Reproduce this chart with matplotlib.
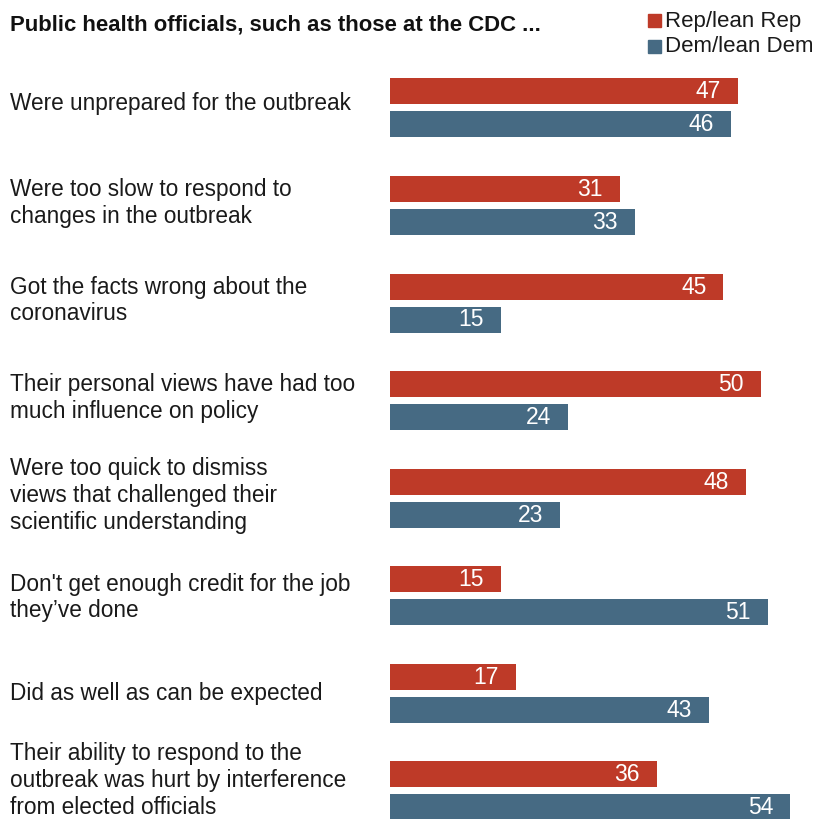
import matplotlib
matplotlib.use("Agg")
import matplotlib.pyplot as plt
from matplotlib.patches import Rectangle

categories = [
    "Were unprepared for the outbreak",
    "Were too slow to respond to\nchanges in the outbreak",
    "Got the facts wrong about the\ncoronavirus",
    "Their personal views have had too\nmuch influence on policy",
    "Were too quick to dismiss\nviews that challenged their\nscientific understanding",
    "Don't get enough credit for the job\nthey\u2019ve done",
    "Did as well as can be expected",
    "Their ability to respond to the\noutbreak was hurt by interference\nfrom elected officials",
]
rep_values = [47, 31, 45, 50, 48, 15, 17, 36]
dem_values = [46, 33, 15, 24, 23, 51, 43, 54]
series_names = ["Rep/lean Rep", "Dem/lean Dem"]
title = "Public health officials, such as those at the CDC ..."

REP_COLOR = "#BE3A28"
DEM_COLOR = "#466A83"
TEXT_COLOR = "#1a1a1a"
FONT = ["Liberation Sans", "DejaVu Sans"]

W, H = 832, 819
fig = plt.figure(figsize=(W / 100, H / 100), dpi=100)

# Axes laid out in pixel units vertically (y grows downward)
px_per_unit = 7.41
x0 = 390
ax = fig.add_axes([x0 / W, 0, 54 * px_per_unit / W, 1])
ax.set_xlim(0, 54)
ax.set_ylim(H, 0)
ax.axis("off")

group_start = 91.3
group_step = 97.6
bar_gap = 33.0
bar_h = 26.0
# small per-row nudges for the wrapped category labels
label_dy = [-4, -2.5, -2.5, -2.5, -2.7, 1.5, 0, -10.5]

for i, (cat, r, d) in enumerate(zip(categories, rep_values, dem_values)):
    yr = group_start + i * group_step
    yd = yr + bar_gap
    ax.barh(yr, r, height=bar_h, color=REP_COLOR, clip_on=False)
    ax.barh(yd, d, height=bar_h, color=DEM_COLOR, clip_on=False)
    for y, v in ((yr, r), (yd, d)):
        ax.text(v - 2.3, y + 0.5, f"{v}", color="white", ha="right", va="center",
                fontsize=16.5, family=FONT)
    yc = yr + bar_gap / 2 + label_dy[i]
    fig.text(10 / W, 1 - yc / H, cat, ha="left", va="center",
             fontsize=16.3, family=FONT, linespacing=1.2, color=TEXT_COLOR)

fig.text(10 / W, 1 - 25 / H, title, ha="left", va="center", fontsize=15.9,
         fontweight="bold", family=FONT, color="#111111")

# Legend
for j, (name, col) in enumerate(zip(series_names, (REP_COLOR, DEM_COLOR))):
    yc = 20.5 + j * 25.5
    fig.patches.append(Rectangle((648 / W, 1 - (yc + 6.5) / H), 13 / W, 13 / H,
                                 transform=fig.transFigure, color=col))
    fig.text(665 / W, 1 - (yc + 1) / H, name, ha="left", va="center", fontsize=16,
             family=FONT, color=TEXT_COLOR)

fig.savefig("out.png", dpi=100)
